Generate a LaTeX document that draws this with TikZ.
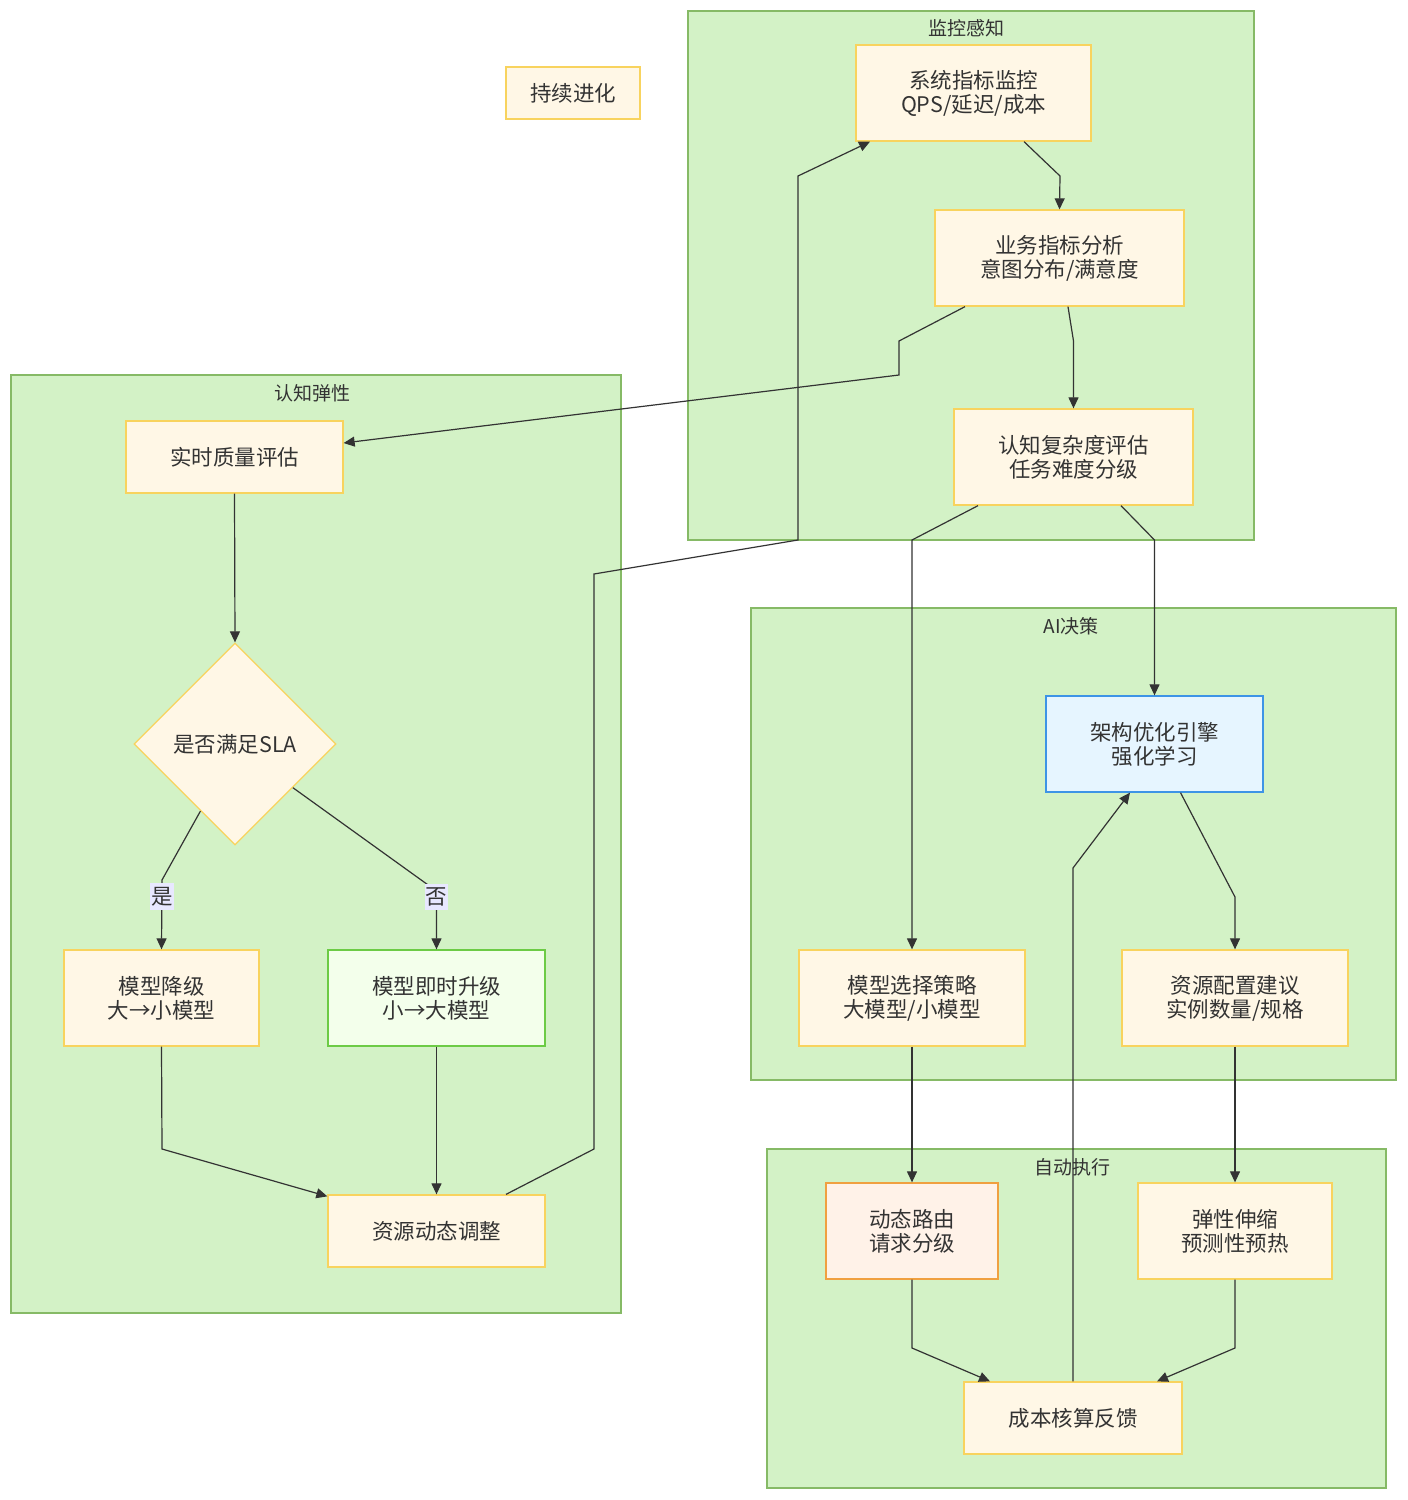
\documentclass[tikz,border=0pt]{standalone}
\usepackage{fontspec}
\setmainfont{Noto Sans CJK SC}
\usetikzlibrary{arrows.meta,shapes.geometric,calc}
\definecolor{clfill}{HTML}{D3F2C6}
\definecolor{clline}{HTML}{86BA66}
\definecolor{nfill}{HTML}{FFF7E6}
\definecolor{nline}{HTML}{F8D35E}
\definecolor{bfill}{HTML}{E6F5FF}
\definecolor{bline}{HTML}{3D94E6}
\definecolor{gfill}{HTML}{F3FFEB}
\definecolor{gline}{HTML}{6CCB45}
\definecolor{ofill}{HTML}{FFF2E8}
\definecolor{oline}{HTML}{F0A040}
\definecolor{lblfill}{HTML}{E8E8FF}
\definecolor{txt}{HTML}{333333}
\newcommand\nfnt{\fontsize{21.5}{24}\selectfont}
\newcommand\tfnt{\fontsize{19}{22}\selectfont}
\tikzset{
  cluster/.style={draw=clline, fill=clfill, line width=1.3pt},
  ctitle/.style={text=txt, font=\tfnt, inner sep=0pt},
  box/.style={draw=nline, fill=nfill, line width=1.3pt, align=center, font=\nfnt, text=txt, inner sep=0pt},
  bluebox/.style={box, draw=bline, fill=bfill},
  greenbox/.style={box, draw=gline, fill=gfill},
  orangebox/.style={box, draw=oline, fill=ofill},
  decision/.style={box, diamond, aspect=1},
  edge/.style={draw=txt, line width=1.2pt, -{Triangle[length=11pt,width=10pt]}},
  lbl/.style={fill=lblfill, text=txt, font=\nfnt, inner xsep=1pt, inner ysep=4pt}
}
\begin{document}
\begin{tikzpicture}[x=1pt,y=-1pt]
\useasboundingbox (0,0) rectangle (1408,1500);
% clusters
\draw[cluster] (688,11) rectangle (1254,540);
\node[ctitle] (t1) at (966,28) {监控感知};
\draw[cluster] (11,375) rectangle (621,1313);
\node[ctitle] (t2) at (312,393) {认知弹性};
\draw[cluster] (751,608) rectangle (1396,1080);
\node[ctitle] (t3) at (1071,626) {AI决策};
\draw[cluster] (767,1149) rectangle (1386,1488);
\node[ctitle] (t4) at (1072,1167) {自动执行};
% nodes
\node[box, minimum width=134, minimum height=52] (evo) at (573,93) {持续进化};
\node[box, minimum width=235, minimum height=96] (sys) at (973.5,93) {系统指标监控\\QPS/延迟/成本};
\node[box, minimum width=249, minimum height=96] (biz) at (1059.5,258) {业务指标分析\\意图分布/满意度};
\node[box, minimum width=239, minimum height=96] (cog) at (1073.5,457) {认知复杂度评估\\任务难度分级};
\node[box, minimum width=217, minimum height=72] (qual) at (234.5,457) {实时质量评估};
\node[decision, minimum width=202, minimum height=202] (sla) at (235,744) {是否满足SLA};
\node[box, minimum width=195, minimum height=96] (mdown) at (161.5,998) {模型降级\\大→小模型};
\node[greenbox, minimum width=217, minimum height=96] (mup) at (436.5,998) {模型即时升级\\小→大模型};
\node[box, minimum width=217, minimum height=72] (madj) at (436.5,1231) {资源动态调整};
\node[bluebox, minimum width=217, minimum height=96] (arch) at (1154.5,744) {架构优化引擎\\强化学习};
\node[box, minimum width=226, minimum height=96] (msel) at (912,998) {模型选择策略\\大模型/小模型};
\node[box, minimum width=226, minimum height=96] (res) at (1235,998) {资源配置建议\\实例数量/规格};
\node[orangebox, minimum width=172, minimum height=96] (route) at (912,1231) {动态路由\\请求分级};
\node[box, minimum width=194, minimum height=96] (elastic) at (1235,1231) {弹性伸缩\\预测性预热};
\node[box, minimum width=218, minimum height=72] (cost) at (1073,1418) {成本核算反馈};
% edges
\draw[edge] ([xshift=50.5]sys.south) -- (1060,176) -- (biz.north);
\draw[edge] ([xshift=8.5]biz.south) -- (1073.5,341) -- (cog.north);
\draw[edge] ([xshift=-94.5]biz.south) -- (899,341) -- (899,375) -- ([yshift=14]qual.east);
\draw[edge] ([xshift=-95.5]cog.south) -- (912,540) -- (msel.north);
\draw[edge] ([xshift=47.5]cog.south) -- (1154.5,540) -- (arch.north);
\draw[edge] ([xshift=26]arch.south) -- (1235,897) -- (res.north);
\draw[edge] (msel.south) -- (route.north);
\draw[edge] (res.south) -- (elastic.north);
\draw[edge] (route.south) -- (912,1348) -- ([xshift=-83]cost.north);
\draw[edge] (elastic.south) -- (1235,1348) -- ([xshift=84]cost.north);
\draw[edge] (cost.north) -- (1073,868) -- ([xshift=-24.5]arch.south);
\draw[edge] (qual.south) -- (sla.north);
\draw[edge] ($(sla.west)!0.66!(sla.south)$) -- (162,880) -- node[lbl, pos=0.24] (yes) {是} (mdown.north);
\draw[edge] ($(sla.east)!0.43!(sla.south)$) -- (436.5,891) -- node[lbl, pos=0.1] (no) {否} (mup.north);
\draw[edge] (mdown.south) -- (162,1149) -- ([yshift=-2]madj.north west);
\draw[edge] (mup.south) -- (madj.north);
\draw[edge] ([xshift=69.5]madj.north) -- (594,1149) -- (594,574) -- (798,540) -- (798,176) -- ([xshift=-103.5]sys.south);
\end{tikzpicture}
\end{document}
